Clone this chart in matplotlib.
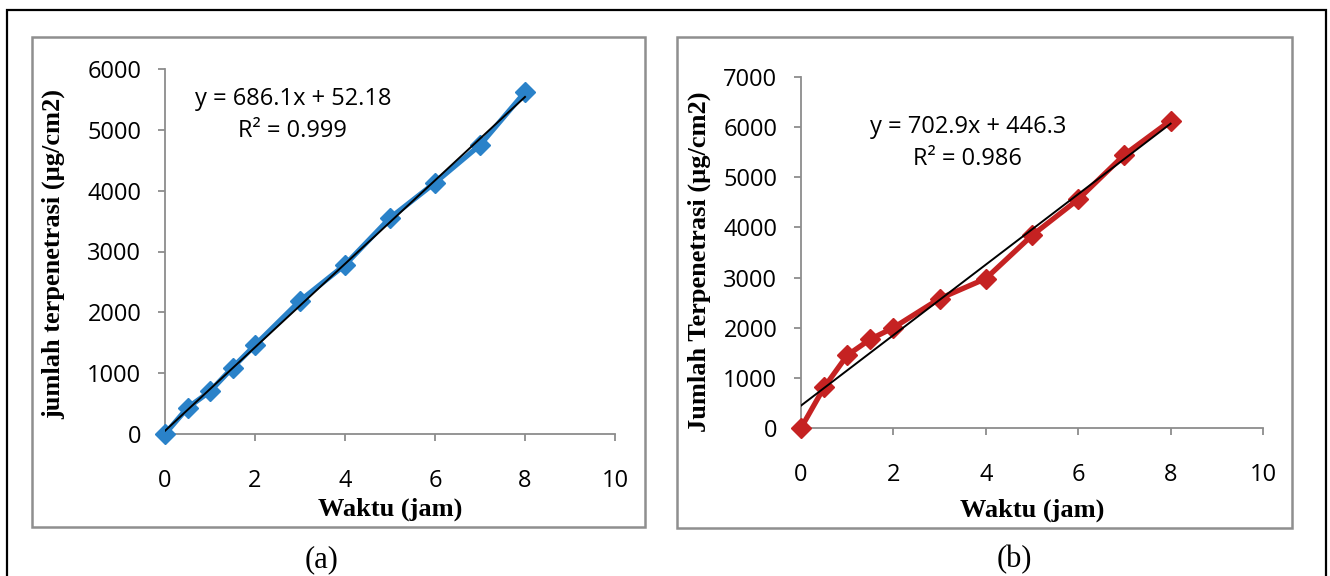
import matplotlib.pyplot as plt
from matplotlib.patches import Rectangle

# waktu (jam)
waktu = [0, 0.5, 1, 1.5, 2, 3, 4, 5, 6, 7, 8]

# panel (a)
jumlah_a = [0, 430, 700, 1090, 1460, 2190, 2780, 3550, 4130, 4750, 5620]
slope_a, intercept_a = 686.1, 52.18
eq_a = "y = 686.1x + 52.18"
r2_a = "R² = 0.999"

# panel (b)
jumlah_b = [0, 810, 1450, 1770, 2000, 2580, 2980, 3840, 4560, 5450, 6130]
slope_b, intercept_b = 702.9, 446.3
eq_b = "y = 702.9x + 446.3"
r2_b = "R² = 0.986"

TICK_FONT = "Open Sans"
LABEL_FONT = "Liberation Serif"
AXIS_GREY = "#8c8c8c"


def draw_panel(ax, y, slope, intercept, color, ymax, ylabel, eq, r2, eq_pos, xlab_y, ylab_pos):
    ax.plot(waktu, y, color=color, lw=3.8, marker="D", markersize=10.5,
            clip_on=False, zorder=3)
    xs = [waktu[0], waktu[-1]]
    ax.plot(xs, [slope * v + intercept for v in xs], color="black", lw=1.4, zorder=4)

    ax.set_xlim(0, 10)
    ax.set_ylim(0, ymax)
    ax.set_xticks(range(0, 11, 2))
    ax.set_yticks(range(0, ymax + 1, 1000))
    for s in ["top", "right"]:
        ax.spines[s].set_visible(False)
    for s in ["left", "bottom"]:
        ax.spines[s].set_color(AXIS_GREY)
        ax.spines[s].set_linewidth(1.3)
    ax.tick_params(axis="both", direction="out", length=5, width=1.3, color=AXIS_GREY,
                   labelsize=17)
    ax.tick_params(axis="x", pad=20)
    ax.tick_params(axis="y", pad=12)
    for lab in ax.get_xticklabels() + ax.get_yticklabels():
        lab.set_fontfamily(TICK_FONT)

    ax.text(eq_pos[0], eq_pos[1], eq + "\n" + r2, transform=ax.transAxes,
            ha="center", va="center", multialignment="center", linespacing=1.45,
            fontsize=17, family=TICK_FONT)

    ax.set_xlabel("Waktu (jam)", fontsize=19, fontweight="bold", family=LABEL_FONT,
                  va="center")
    ax.xaxis.set_label_coords(0.5, xlab_y)
    ax.set_ylabel(ylabel, fontsize=19, fontweight="bold", family=LABEL_FONT,
                  va="center")
    ax.yaxis.set_label_coords(ylab_pos[0], ylab_pos[1])


fig = plt.figure(figsize=(13.3, 5.76), dpi=100)
W, H = 1330.0, 576.0


def frac_rect(x0, y0, x1, y1):
    # pixel box (top-left origin) to figure fractions
    return [x0 / W, 1 - y1 / H, (x1 - x0) / W, (y1 - y0) / H]


# outer frame and panel boxes
fig.patches.append(Rectangle((7 / W, -0.1), (1326 - 7) / W, 1.1 - 10 / H,
                             transform=fig.transFigure, fill=False, ec="black", lw=1.6))
for box in [(32, 37, 645, 527), (677, 37, 1292, 528)]:
    r = frac_rect(*box)
    fig.patches.append(Rectangle((r[0], r[1]), r[2], r[3], transform=fig.transFigure,
                                 fill=False, ec="#8f8f8f", lw=1.8))

ax_a = fig.add_axes(frac_rect(165, 69, 615, 434))
draw_panel(ax_a, jumlah_a, slope_a, intercept_a, "#2a82c9", 6000,
           "jumlah terpenetrasi (µg/cm2)", eq_a, r2_a,
           (0.284, 0.873), -0.205, (-0.247, 0.492))

ax_b = fig.add_axes(frac_rect(801, 77, 1263, 428))
draw_panel(ax_b, jumlah_b, slope_b, intercept_b, "#c52222", 7000,
           "Jumlah Terpenetrasi (µg/cm2)", eq_b, r2_b,
           (0.361, 0.812), -0.234, (-0.221, 0.474))

fig.text(322 / W, 1 - 560 / H, "(a)", ha="center", va="center", fontsize=22, family=LABEL_FONT)
fig.text(1014 / W, 1 - 560 / H, "(b)", ha="center", va="center", fontsize=22, family=LABEL_FONT)

fig.savefig("out.png", dpi=100)
